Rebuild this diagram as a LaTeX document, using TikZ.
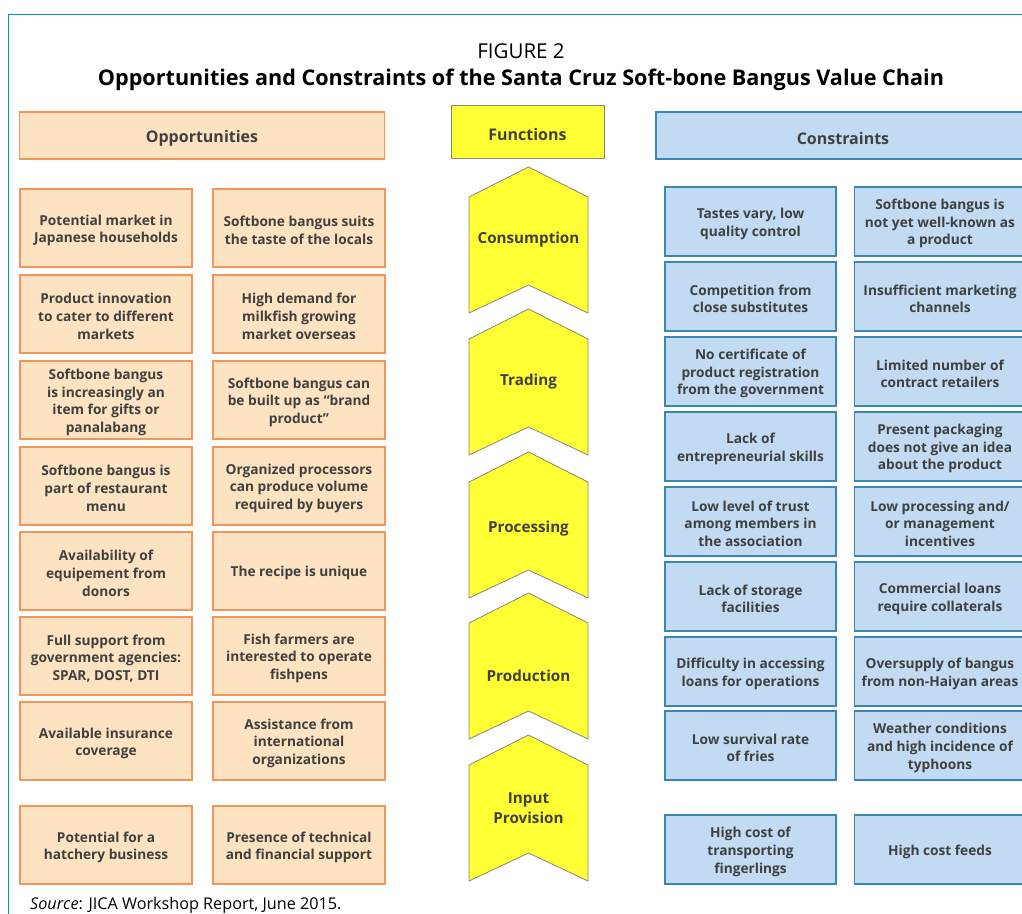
\documentclass[tikz,border=0pt]{standalone}
\usepackage{fontspec}
\setmainfont{Open Sans}
\newcommand\st{\rule{0pt}{1.1em}}
\definecolor{txt}{HTML}{404040}
\definecolor{ofill}{HTML}{FDE3C2}
\definecolor{oline}{HTML}{F2955A}
\definecolor{bfill}{HTML}{C2DBF2}
\definecolor{bline}{HTML}{3A87B0}
\definecolor{yfill}{HTML}{FFFF33}
\definecolor{yline}{HTML}{858585}
\definecolor{teal}{HTML}{009B9B}
\tikzset{
  every node/.style={text=txt, font=\bfseries\fontsize{13.7}{17.6}\selectfont, align=center, inner sep=0pt,
    execute at begin node={\rule{0pt}{1.1em}}},
  obox/.style={draw=oline, fill=ofill, line width=1.2pt, minimum width=172pt, minimum height=78pt},
  ohead/.style={obox, minimum width=365pt, minimum height=47pt, font=\bfseries\fontsize{16}{19}\selectfont},
  cbox/.style={draw=bline, fill=bfill, line width=1.2pt, minimum width=171pt, minimum height=69pt},
  chead/.style={cbox, minimum width=374pt, minimum height=47pt, font=\bfseries\fontsize{16}{19}\selectfont},
  fhead/.style={draw=yline, fill=yfill, line width=0.8pt, minimum width=153pt, minimum height=53pt, font=\bfseries\fontsize{16}{19}\selectfont},
  chev/.style={draw=yline, fill=yfill, line width=0.8pt},
  clabel/.style={font=\bfseries\fontsize{15.2}{20}\selectfont}
}
\begin{document}
\begin{tikzpicture}[x=1pt,y=-1pt]
\useasboundingbox (0,0) rectangle (1022,913);
\clip (0,0) rectangle (1022,913);
\draw[teal, line width=1pt] (1040,14) -- (8.5,14) -- (8.5,930);
\node[font=\fontsize{20.5}{24}\selectfont, text=black] (fig) at (521,47) {FIGURE 2};
\node[font=\bfseries\fontsize{21.6}{24}\selectfont, text=black] (title) at (521,76) {Opportunities and Constraints of the Santa Cruz Soft-bone Bangus Value Chain};
% headers
\node[ohead] (oh) at (202,135.5) {Opportunities};
\node[fhead] (fh) at (527.5,131.5) {Functions};
\node[chead] (ch) at (843,135.5) {Constraints};
% opportunities
\node[obox] (o11) at (106,228) {\st Potential market in\\Japanese households};
\node[obox] (o12) at (299,228) {\st Softbone bangus suits\\the taste of the locals};
\node[obox] (o21) at (106,314) {\st Product innovation\\to cater to different\\markets};
\node[obox] (o22) at (299,314) {\st High demand for\\milkfish growing\\market overseas};
\node[obox] (o31) at (106,400) {\st Softbone bangus\\is increasingly an\\item for gifts or\\panalabang};
\node[obox] (o32) at (299,400) {\st Softbone bangus can\\be built up as “brand\\product”};
\node[obox] (o41) at (106,486) {\st Softbone bangus is\\part of restaurant\\menu};
\node[obox] (o42) at (299,486) {\st Organized processors\\can produce volume\\required by buyers};
\node[obox] (o51) at (106,571) {\st Availability of\\equipement from\\donors};
\node[obox] (o52) at (299,571) {The recipe is unique};
\node[obox] (o61) at (106,656) {\st Full support from\\government agencies:\\SPAR, DOST, DTI};
\node[obox] (o62) at (299,656) {\st Fish farmers are\\interested to operate\\fishpens};
\node[obox] (o71) at (106,741) {\st Available insurance\\coverage};
\node[obox] (o72) at (299,741) {\st Assistance from\\international\\organizations};
\node[obox] (o81) at (106,845) {\st Potential for a\\hatchery business};
\node[obox] (o82) at (299,845) {\st Presence of technical\\and financial support};
% constraints
\node[cbox] (c11) at (750.5,221.5) {\st Tastes vary, low\\quality control};
\node[cbox] (c12) at (940,221.5) {\st Softbone bangus is\\not yet well-known as\\a product};
\node[cbox] (c21) at (750.5,296.5) {\st Competition from\\close substitutes};
\node[cbox] (c22) at (940,296.5) {\st Insufficient marketing\\channels};
\node[cbox] (c31) at (750.5,371.5) {\st No certificate of\\product registration\\from the government};
\node[cbox] (c32) at (940,371.5) {\st Limited number of\\contract retailers};
\node[cbox] (c41) at (750.5,446.5) {\st Lack of\\entrepreneurial skills};
\node[cbox] (c42) at (940,446.5) {\st Present packaging\\does not give an idea\\about the product};
\node[cbox] (c51) at (750.5,521.5) {\st Low level of trust\\among members in\\the association};
\node[cbox] (c52) at (940,521.5) {\st Low processing and/\\or management\\incentives};
\node[cbox] (c61) at (750.5,596.5) {\st Lack of storage\\facilities};
\node[cbox] (c62) at (940,596.5) {\st Commercial loans\\require collaterals};
\node[cbox] (c71) at (750.5,671.5) {\st Difficulty in accessing\\loans for operations};
\node[cbox] (c72) at (940,671.5) {\st Oversupply of bangus\\from non-Haiyan areas};
\node[cbox] (c81) at (750.5,745.5) {\st Low survival rate\\of fries};
\node[cbox] (c82) at (940,745.5) {\st Weather conditions\\and high incidence of\\typhoons};
\node[cbox] (c91) at (750.5,849.5) {\st High cost of\\transporting\\fingerlings};
\node[cbox] (c92) at (940,849.5) {High cost feeds};
% chevrons
\foreach \t in {167,309,452,593,735}{
  \draw[chev] (469,\t+30) -- (528.5,\t) -- (588,\t+30) -- (588,\t+146) -- (528.5,\t+118) -- (469,\t+146) -- cycle;
}
\node[clabel] (f1) at (528.5,237) {Consumption};
\node[clabel] (f2) at (528.5,379) {Trading};
\node[clabel] (f3) at (528.5,526) {Processing};
\node[clabel] (f4) at (528.5,673) {Production};
\node[clabel] (f5) at (528.5,808) {Input\\Provision};
% source
\node[font=\fontsize{16.2}{18}\selectfont, text=black, anchor=west] (src) at (30,903) {\textit{Source}: JICA Workshop Report, June 2015.};
\end{tikzpicture}
\end{document}
